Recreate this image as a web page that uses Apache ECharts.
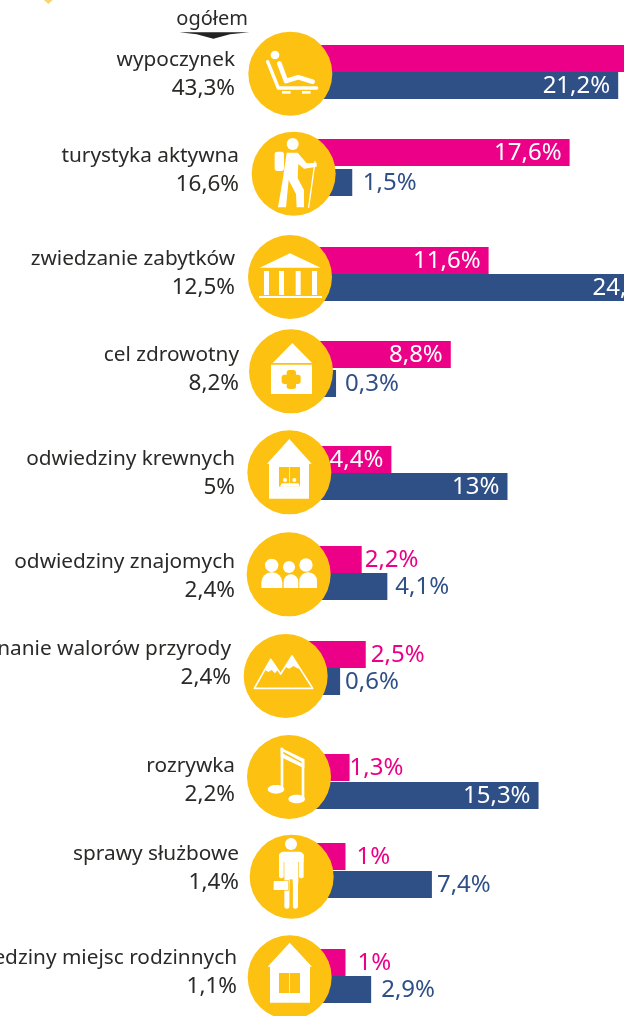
<!DOCTYPE html>
<html><head><meta charset="utf-8">
<style>html,body{margin:0;padding:0;background:#fff}#c{width:624px;height:1016px}</style>
<script src="https://cdn.jsdelivr.net/npm/echarts@6/dist/echarts.min.js"></script>
</head><body><div id="c"></div>
<script>
// ---- data ----
var categories = ['wypoczynek','turystyka aktywna','zwiedzanie zabytków','cel zdrowotny','odwiedziny krewnych','odwiedziny znajomych','poznanie walorów przyrody','rozrywka','sprawy służbowe','odwiedziny miejsc rodzinnych'];
var totalLabels = ['43,3%','16,6%','12,5%','8,2%','5%','2,4%','2,4%','2,2%','1,4%','1,1%'];
var pinkValues = [49, 17.6, 11.6, 8.8, 4.4, 2.2, 2.5, 1.3, 1, 1];
var blueValues = [21.2, 1.5, 24.9, 0.3, 13, 4.1, 0.6, 15.3, 7.4, 2.9];
var headerLabel = 'ogółem';

// ---- layout ----
var PINK='#ec0088', BLUE='#2f4f87', YEL='#fdc112', INK='#2b2a29', W='#ffffff';
var FONT='"Noto Sans", sans-serif';
var rowTop=[45,139,247,341,446,546,641,754,843,949];
var rowGap=[0,3,0,2,0,0,0,1,1,0];
var textRight=[235,239,235,239,235,235,231,235,239,237];
var textY=[60,156,259,355,459,562,649,766,854,958];
var totalY=[89,185,288,384,488,591,678,795,883,987];
var pinkLabelGap=[8,8,8,8,8,3,5,0,11,12];
var blueLabelGap=[8,10.5,8,9,8,8,5,8,5,10];
var insideMinPink=4, insideMinBlue=10;
var X0=332, PX=13.5, AXMIN=-4, AXMAX=60, BAR=27, UNDERLAP=-3.5;

function fmt(v){return String(v).replace('.',',')+'%';}
function item(v,color,min,gap){
  var inside=v>=min;
  return {value:v,itemStyle:{color:color},label:{show:true,formatter:fmt(v),
    position:inside?'insideRight':'right',distance:gap,color:inside?W:color,offset:[0,1],
    fontFamily:FONT,fontSize:24}};
}
var grids=[],xs=[],ys=[],series=[];
categories.forEach(function(c,i){
  var g=rowGap[i];
  grids.push({left:X0+AXMIN*PX,top:rowTop[i]-g/2,width:(AXMAX-AXMIN)*PX,height:2*BAR+2*g,outerBoundsMode:'none'});
  xs.push({type:'value',gridIndex:i,min:AXMIN,max:AXMAX,show:false});
  ys.push({type:'category',gridIndex:i,inverse:true,data:['a','b'],show:false});
  series.push({type:'bar',xAxisIndex:i,yAxisIndex:i,barWidth:BAR,barGap:'-100%',silent:true,z:2,animation:false,
    data:[item(pinkValues[i],PINK,insideMinPink,pinkLabelGap[i]),item(blueValues[i],BLUE,insideMinBlue,blueLabelGap[i])]});
  // the bars run on behind the circle, to the left of the zero line
  series.push({type:'bar',xAxisIndex:i,yAxisIndex:i,barWidth:BAR,barGap:'-100%',silent:true,z:2,animation:false,
    data:[{value:UNDERLAP,itemStyle:{color:PINK}},{value:UNDERLAP,itemStyle:{color:BLUE}}]});
});

// ---- decoration (icons traced in 3x crop coordinates) ----
function C(x,y,r,f){return {type:'circle',shape:{cx:x,cy:y,r:r},style:{fill:f||W}};}
function E(x,y,rx,ry,f){return {type:'ellipse',shape:{cx:x,cy:y,rx:rx,ry:ry},style:{fill:f||W}};}
function R(x,y,w,h,f,r){return {type:'rect',shape:{x:x,y:y,width:w,height:h,r:r||0},style:{fill:f||W}};}
function P(pts,f){return {type:'polygon',shape:{points:pts},style:{fill:f||W}};}
function L(pts,lw,col){return {type:'polyline',shape:{points:pts},style:{stroke:col||W,lineWidth:lw,fill:'none',lineCap:'round',lineJoin:'round'}};}
function G(ox,oy,ch){return {type:'group',x:ox,y:oy,scaleX:1/3,scaleY:1/3,children:ch.map(function(e){e.z=10;return e;})};}

var icons=[
 G(0,0,[C(871,221,126,YEL),C(825,165,13),L([[838,190],[858,243],[895,232],[938,245]],14),
   L([[803,185],[835,264],[950,264]],10),R(846,273,26,8),R(906,273,26,8)]),
 G(0,0,[C(881,521,126,YEL),C(878,432,18),R(824,455,28,58,W,8),
   P([[860,458],[893,458],[920,490],[950,488],[950,500],[912,506],[895,492],[893,535],[912,570],[912,622],[890,622],[888,582],[866,540],[858,622],[834,622],[848,540]]),
   L([[945,485],[926,622]],4)]),
 G(230,220,[C(180,171,126,YEL),P([[89,143],[180,100],[272,143]]),R(102,153,15,72),R(147,153,15,72),R(197,153,15,72),R(246,153,15,72),R(87,228,189,6)]),
 G(230,220,[C(183,454,126,YEL),P([[128,429],[187,369],[246,429]]),R(123,434,123,88),R(170,450,28,57,YEL,8),R(155,464,57,28,YEL,8)]),
 G(230,220,[C(178,757,126,YEL),P([[111,731],[178,657],[245,731],[237,731],[237,836],[117,836],[117,731]]),R(147,741,63,59,YEL),
   R(177,741,2,59),C(165,780,6),C(193,780,6),P([[150,800],[155,790],[205,790],[210,800]])]),
 G(230,520,[C(176,163,126,YEL),C(125,136,20),C(228,135,20),C(177,141,18),R(94,157,63,47,W,[30,30,0,0]),R(208,157,53,47,W,[26,26,0,0]),R(161,163,44,41,W,[22,22,0,0])]),
 G(230,520,[C(167,468,126,YEL),
   L([[73,505],[122,418],[152,462],[186,408],[248,505],[73,505]],5),
   P([[122,418],[105,450],[115,456],[125,450],[135,460],[143,450]]),P([[186,408],[165,440],[178,446],[190,438],[205,446],[208,442]])]),
 G(240,735,[C(147,126,126,YEL),E(108,163,25,13),E(170,192,25,13),
   R(122,38,8,125),R(185,72,8,120),P([[122,38],[193,72],[193,100],[122,66]]),P([[130,50],[185,80],[185,85],[130,56]],YEL)]),
 G(230,800,[C(185,230,126,YEL),C(183,132,18),R(147,155,74,30,W,[14,14,0,0]),R(147,160,14,75,W,6),R(207,160,14,75,W,6),R(163,160,42,90),R(163,245,16,81,W,[0,0,8,8]),R(188,238,16,88,W,[0,0,8,8]),
   R(179,238,9,90,YEL),R(129,241,48,31,YEL),R(131,243,44,27)]),
 G(230,800,[C(179,532,126,YEL),P([[113,500],[179,428],[246,500],[240,500],[240,608],[120,608],[120,500]]),R(147,519,63,60,YEL),R(177,519,2,60)]),
 G(0,0,[P([[132,0],[158,0],[145,12]],'#fdd46a'),P([[538,97],[748,97],[690,103],[640,116],[590,103]],'#222222')])
];
function T(s,x,y,size){return {type:'text',z:11,style:{text:s,x:x,y:y,align:'right',verticalAlign:'middle',fill:INK,font:size+'px '+FONT}};}
var texts=[T(headerLabel,248,19,20)];
categories.forEach(function(c,i){texts.push(T(c,textRight[i],textY[i],20.8));texts.push(T(totalLabels[i],textRight[i],totalY[i],22.5));});

var chart=echarts.init(document.getElementById('c'),null,{renderer:'canvas'});
chart.setOption({animation:false,backgroundColor:'#fff',grid:grids,xAxis:xs,yAxis:ys,series:series,graphic:{elements:icons.concat(texts)}});
</script></body></html>
